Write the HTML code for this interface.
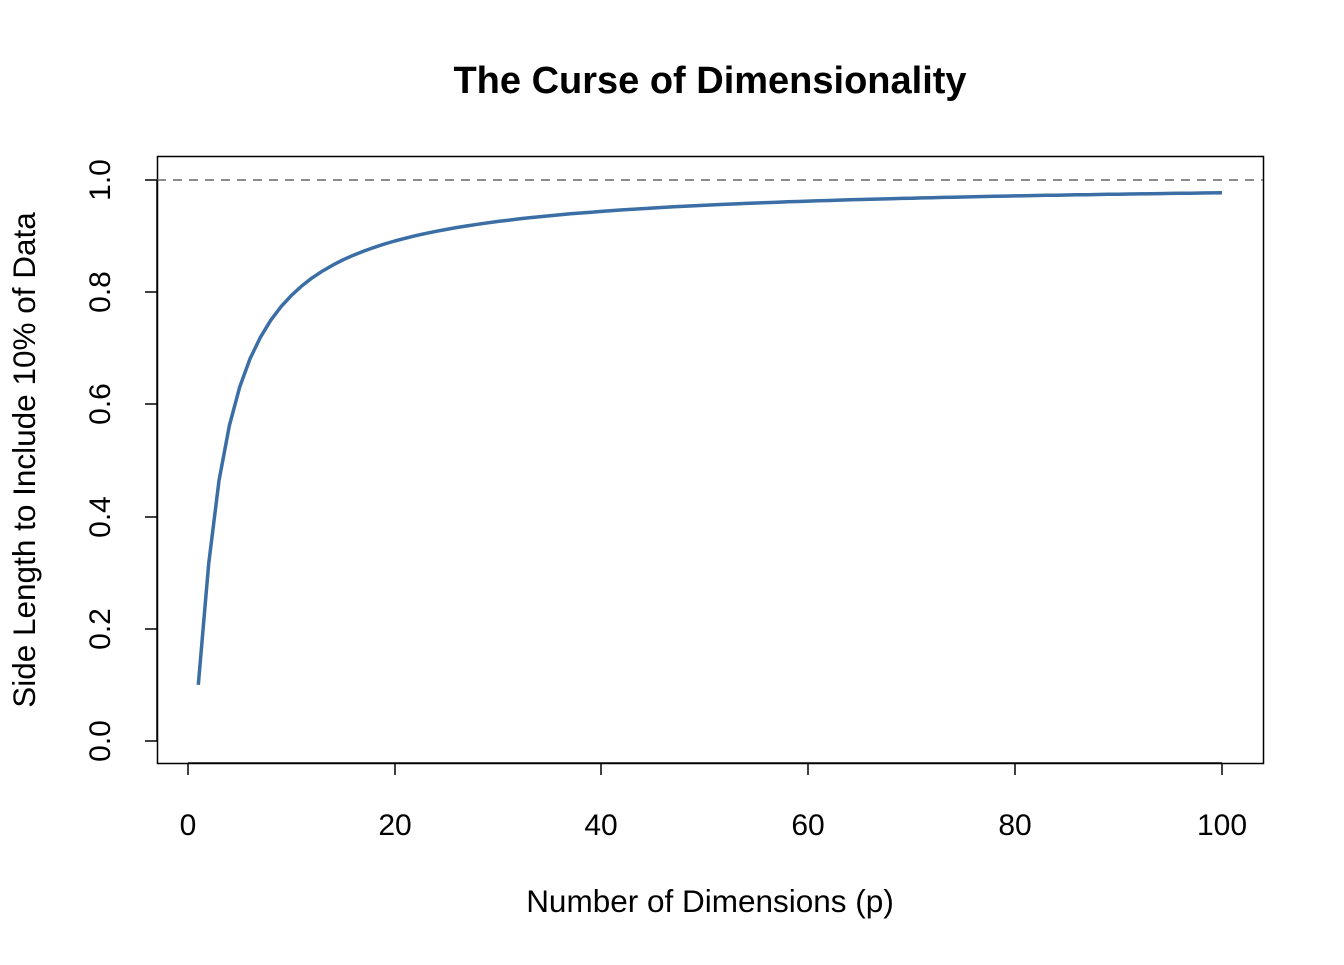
<!DOCTYPE html>
<html><head><meta charset="utf-8"><style>
html,body{margin:0;padding:0;background:#fff;}
svg text{font-family:"Liberation Sans",Arial,sans-serif;fill:#000;}
</style></head><body>
<svg id="s" width="1344" height="960" viewBox="0 0 1344 960" xmlns="http://www.w3.org/2000/svg">
<rect x="0" y="0" width="1344" height="960" fill="#fff"/>
<text x="710" y="93" font-size="38" font-weight="bold" text-anchor="middle">The Curse of Dimensionality</text>
<rect x="157.5" y="156.5" width="1106" height="607" fill="none" stroke="#000" stroke-width="1.5"/>
<line x1="157" y1="180" x2="1263" y2="180" stroke="#666" stroke-width="1.5" stroke-dasharray="9,7"/>
<g stroke="#000" stroke-width="1.5">
<line x1="188" y1="763" x2="1222" y2="763"/>
<line x1="188" y1="763" x2="188" y2="775"/><line x1="395" y1="763" x2="395" y2="775"/>
<line x1="601" y1="763" x2="601" y2="775"/><line x1="808" y1="763" x2="808" y2="775"/>
<line x1="1015" y1="763" x2="1015" y2="775"/><line x1="1222" y1="763" x2="1222" y2="775"/>
<line x1="157" y1="180" x2="157" y2="741"/>
<line x1="145" y1="741" x2="157" y2="741"/><line x1="145" y1="629" x2="157" y2="629"/>
<line x1="145" y1="517" x2="157" y2="517"/><line x1="145" y1="404" x2="157" y2="404"/>
<line x1="145" y1="292" x2="157" y2="292"/><line x1="145" y1="180" x2="157" y2="180"/>
</g>
<g font-size="30" text-anchor="middle">
<text x="188" y="835">0</text><text x="395" y="835">20</text><text x="601" y="835">40</text>
<text x="808" y="835">60</text><text x="1015" y="835">80</text><text x="1222" y="835">100</text>
<text transform="translate(110,741) rotate(-90)">0.0</text>
<text transform="translate(110,629) rotate(-90)">0.2</text>
<text transform="translate(110,517) rotate(-90)">0.4</text>
<text transform="translate(110,404) rotate(-90)">0.6</text>
<text transform="translate(110,292) rotate(-90)">0.8</text>
<text transform="translate(110,180) rotate(-90)">1.0</text>
</g>
<g font-size="31.5" text-anchor="middle">
<text x="710" y="912">Number of Dimensions (p)</text>
<text transform="translate(35,460) rotate(-90)">Side Length to Include 10% of Data</text>
</g>
<polyline id="c" fill="none" stroke="#3a6ea5" stroke-width="3.5" stroke-linejoin="round" points=""/>
</svg>
<script>
var pts=[];
for(var p=1;p<=100;p++){var y=Math.pow(0.1,1/p);pts.push((188+p*10.34).toFixed(1)+","+(741-y*561).toFixed(1));}
document.getElementById("c").setAttribute("points",pts.join(" "));
</script>
</body></html>
